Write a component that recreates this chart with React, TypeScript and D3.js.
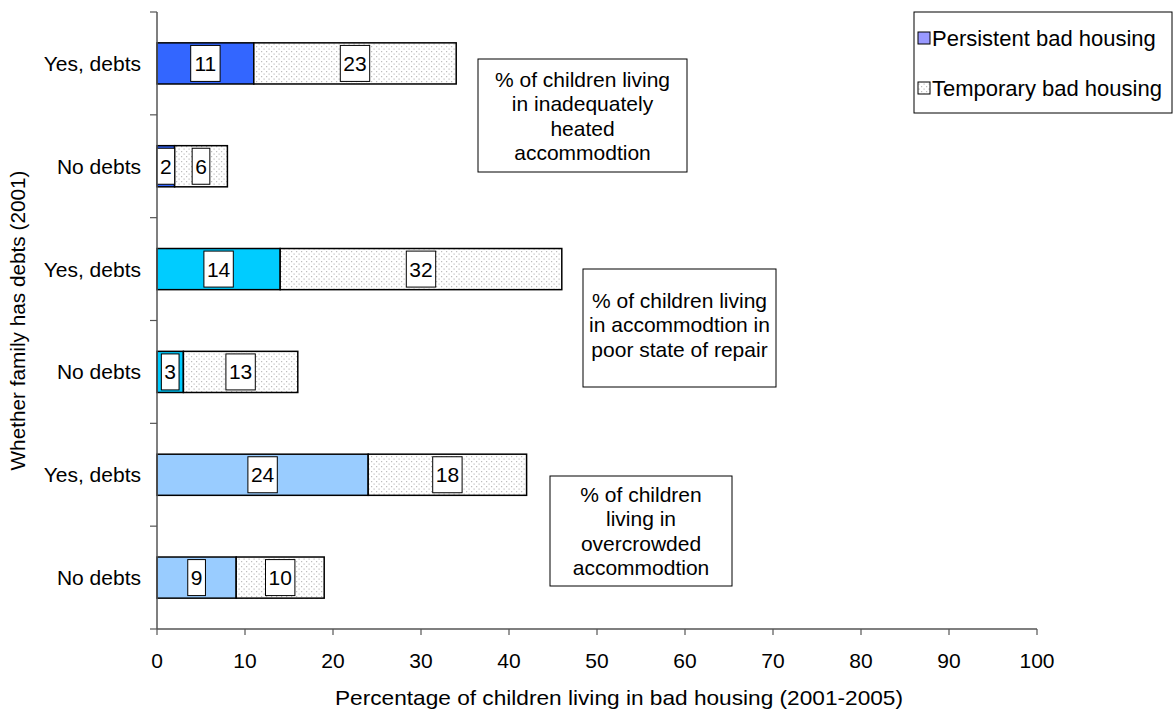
import React from "react";
import * as d3 from "d3";

const categories = ["Yes, debts", "No debts", "Yes, debts", "No debts", "Yes, debts", "No debts"];
const persistent = [11, 2, 14, 3, 24, 9];
const temporary = [23, 6, 32, 13, 18, 10];
const persistentColors = ["#3366FF", "#3366FF", "#00CCFF", "#00CCFF", "#99CCFF", "#99CCFF"];
const xTicks = [0, 10, 20, 30, 40, 50, 60, 70, 80, 90, 100];
const seriesNames = ["Persistent bad housing", "Temporary bad housing"];
const notes = [
  ["% of children living", "in inadequately", "heated", "accommodtion"],
  ["% of children living", "in accommodtion in", "poor state of repair"],
  ["% of children", "living in", "overcrowded", "accommodtion"],
];

const W = 1176, H = 709;
const left = 157, right = 1037, top = 12, bottom = 629;
const FONT = "Arial, 'Liberation Sans', sans-serif";

export default function App() {
  const x = d3.scaleLinear().domain([0, 100]).range([left, right]);
  const y = d3.scaleBand<number>().domain(d3.range(categories.length)).range([top, bottom]).padding(0);
  const barH = y.bandwidth() * 0.4;
  const labelW = (v: number) => String(v).length * 11.7 + 6;

  const noteBoxes = [
    { x: 478, y: 59, w: 209, h: 113, ly: 79 },
    { x: 583, y: 269, w: 193, h: 118, ly: 300 },
    { x: 550, y: 476, w: 182, h: 110, ly: 494 },
  ];

  const label = (v: number, cx: number, cy: number, key: string) => (
    <g key={key}>
      <rect x={cx - labelW(v) / 2} y={cy - 18} width={labelW(v)} height={36} fill="#fff" stroke="#000" strokeWidth={1} />
      <text x={cx} y={cy} dy="0.36em" textAnchor="middle" fontSize={21} fontFamily={FONT}>{v}</text>
    </g>
  );

  return (
    <svg width={W} height={H} style={{ position: "absolute", left: 0, top: 0, background: "#fff" }}>
      <defs>
        <pattern id="dots" width="5" height="5" patternUnits="userSpaceOnUse">
          <rect width="5" height="5" fill="#fff" />
          <rect x="1" y="1" width="1.2" height="1.2" fill="#bdbdbd" />
          <rect x="3.5" y="3.5" width="1.2" height="1.2" fill="#bdbdbd" />
        </pattern>
      </defs>
      <rect width={W} height={H} fill="#fff" />

      {categories.map((c, i) => {
        const cy = (y(i) as number) + y.bandwidth() / 2;
        const y0 = cy - barH / 2;
        const p = persistent[i], t = temporary[i];
        return (
          <g key={i}>
            <rect x={x(0)} y={y0} width={x(p) - x(0)} height={barH} fill={persistentColors[i]} stroke="#000" strokeWidth={1.5} />
            <rect x={x(p)} y={y0} width={x(p + t) - x(p)} height={barH} fill="url(#dots)" stroke="#000" strokeWidth={1.5} />
            {label(p, (x(0) + x(p)) / 2, cy, "p" + i)}
            {label(t, (x(p) + x(p + t)) / 2, cy, "t" + i)}
            <text x={141} y={cy} dy="0.36em" textAnchor="end" fontSize={21} fontFamily={FONT}>{c}</text>
          </g>
        );
      })}

      {/* y axis */}
      <line x1={left} x2={left} y1={top} y2={bottom} stroke="#555" strokeWidth={1.5} />
      {d3.range(categories.length + 1).map((i) => {
        const yy = i === categories.length ? bottom : (y(i) as number);
        return <line key={i} x1={left - 7} x2={left} y1={yy} y2={yy} stroke="#555" strokeWidth={1.2} />;
      })}
      {/* x axis */}
      <line x1={left} x2={right} y1={bottom} y2={bottom} stroke="#555" strokeWidth={1.5} />
      {xTicks.map((t) => (
        <g key={t}>
          <line x1={x(t)} x2={x(t)} y1={bottom} y2={bottom + 6} stroke="#555" strokeWidth={1.2} />
          <text x={x(t)} y={660} dy="0.36em" textAnchor="middle" fontSize={21} fontFamily={FONT}>{t}</text>
        </g>
      ))}
      <text x={619} y={697} dy="0.36em" textAnchor="middle" fontSize={21} fontFamily={FONT} textLength={568} lengthAdjust="spacingAndGlyphs">
        Percentage of children living in bad housing (2001-2005)
      </text>
      <text transform={`translate(17, ${(top + bottom) / 2}) rotate(-90)`} dy="0.36em" textAnchor="middle" fontSize={21} fontFamily={FONT} textLength={300} lengthAdjust="spacingAndGlyphs">
        Whether family has debts (2001)
      </text>

      {/* notes */}
      {noteBoxes.map((b, k) => (
        <g key={k}>
          <rect x={b.x} y={b.y} width={b.w} height={b.h} fill="#fff" stroke="#000" strokeWidth={1} />
          {notes[k].map((ln, j) => (
            <text key={j} x={b.x + b.w / 2} y={b.ly + j * 24.5} dy="0.36em" textAnchor="middle" fontSize={21} fontFamily={FONT}>{ln}</text>
          ))}
        </g>
      ))}

      {/* legend */}
      <rect x={914} y={12} width={258} height={101} fill="#fff" stroke="#000" strokeWidth={1} />
      <rect x={918} y={32} width={12} height={12} fill="#9999FF" stroke="#000" strokeWidth={1} />
      <text x={932} y={38} dy="0.36em" fontSize={22} fontFamily={FONT}>{seriesNames[0]}</text>
      <rect x={918} y={82} width={12} height={12} fill="url(#dots)" stroke="#000" strokeWidth={1} />
      <text x={932} y={88} dy="0.36em" fontSize={22} fontFamily={FONT}>{seriesNames[1]}</text>
    </svg>
  );
}
